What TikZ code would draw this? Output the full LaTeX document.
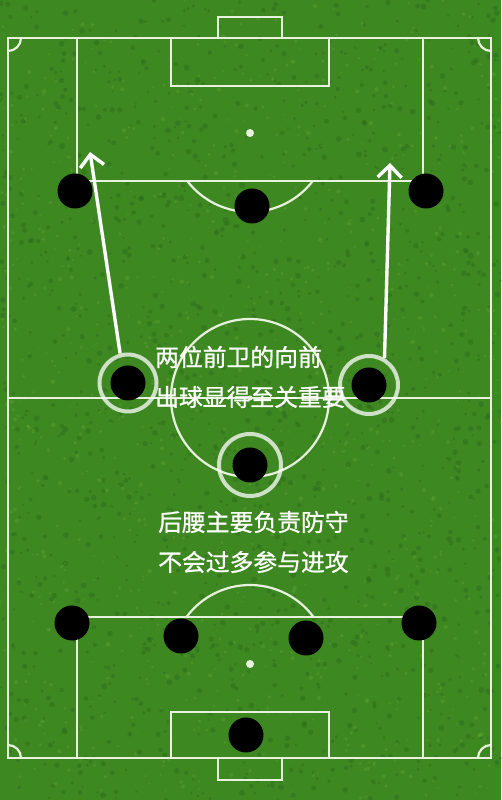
\documentclass[tikz,border=0pt]{standalone}
\usepackage{fontspec}
\newfontfamily\cjk[FakeBold=0.9]{Noto Sans CJK SC}
\usetikzlibrary{arrows.meta}
\definecolor{grass}{RGB}{62,136,34}
\definecolor{grassdark}{RGB}{38,100,22}
\definecolor{grasslight}{RGB}{100,168,52}
\definecolor{chalk}{RGB}{232,240,222}

\begin{document}
\begin{tikzpicture}[x=1pt, y=1pt,
  pitchline/.style={draw=chalk, line width=2.2pt},
  player/.style={circle, fill=black, minimum size=35pt, inner sep=0pt},
  ring/.style={circle, draw=white, draw opacity=0.75, line width=4pt, inner sep=0pt},
  runarrow/.style={-{Straight Barb[length=12pt, width=24pt]}, white, line width=3.4pt},
  caption/.style={anchor=west, text=white, font=\cjk\fontsize{23.8}{28}\selectfont, inner sep=0pt}]
\useasboundingbox (0,0) rectangle (501,800);
% grass
\fill[grass] (0,0) rectangle (501,800);
\pgfmathsetseed{11}
\foreach \i in {1,...,1400} {
  \pgfmathsetmacro\rx{rnd*501}
  \pgfmathsetmacro\ry{rnd*800}
  \fill[grassdark, opacity=0.35] (\rx,\ry) circle (1.2+rnd*1.8);
}
\foreach \i in {1,...,900} {
  \pgfmathsetmacro\rx{rnd*501}
  \pgfmathsetmacro\ry{rnd*800}
  \fill[grasslight, opacity=0.35] (\rx,\ry) circle (0.8+rnd*1.4);
}

% pitch markings
\draw[pitchline] (8,42) rectangle (491,762);
\draw[pitchline] (8,402) -- (491,402);
\draw[pitchline] (250,402) circle (79);
\fill[chalk] (250,402) circle (2.5);
% top half
\draw[pitchline] (218,762) rectangle (282,783);
\draw[pitchline] (171,762) rectangle (329,714);
\draw[pitchline] (77,762) rectangle (423,619);
\fill[chalk] (250,667) circle (4);
\draw[pitchline] (250,667) ++(217.4:79) arc (217.4:322.6:79);
\draw[pitchline] (21,762) arc (0:-90:13);
\draw[pitchline] (478,762) arc (180:270:13);
% bottom half
\draw[pitchline] (218,42) rectangle (282,20);
\draw[pitchline] (171,42) rectangle (329,88);
\draw[pitchline] (77,42) rectangle (423,183);
\fill[chalk] (250,136) circle (4);
\draw[pitchline] (250,136) ++(36.5:79) arc (36.5:143.5:79);
\draw[pitchline] (21,42) arc (0:90:13);
\draw[pitchline] (478,42) arc (180:90:13);

% rings round the midfield three
\node[ring, minimum size=57pt] (lmring) at (128,417) {};
\node[ring, minimum size=58pt] (rmring) at (369,415) {};
\node[ring, minimum size=62pt] (dmring) at (250,335) {};

% players
\node[player] (lw) at (75,609) {};
\node[player] (st) at (252,594) {};
\node[player] (rw) at (426,609) {};
\node[player] (lm) at (128,417) {};
\node[player] (rm) at (369,415) {};
\node[player] (dm) at (250,335) {};
\node[player] (lb) at (72,177) {};
\node[player] (lcb) at (181,164) {};
\node[player] (rcb) at (306,162) {};
\node[player] (rb) at (419,177) {};
\node[player] (gk) at (246,65) {};

% forward runs
\coordinate (lmrun) at (90,648);
\coordinate (rmrun) at (390,637);
\draw[runarrow] (lmring.105) -- (lmrun);
\draw[runarrow] (rmring.60) -- (rmrun);

% captions
\node[caption] (cap1) at (155,443) {两位前卫的向前};
\node[caption] (cap2) at (155,403) {出球显得至关重要};
\node[caption] (cap3) at (158,278) {后腰主要负责防守};
\node[caption] (cap4) at (158,238) {不会过多参与进攻};
\end{tikzpicture}
\end{document}
